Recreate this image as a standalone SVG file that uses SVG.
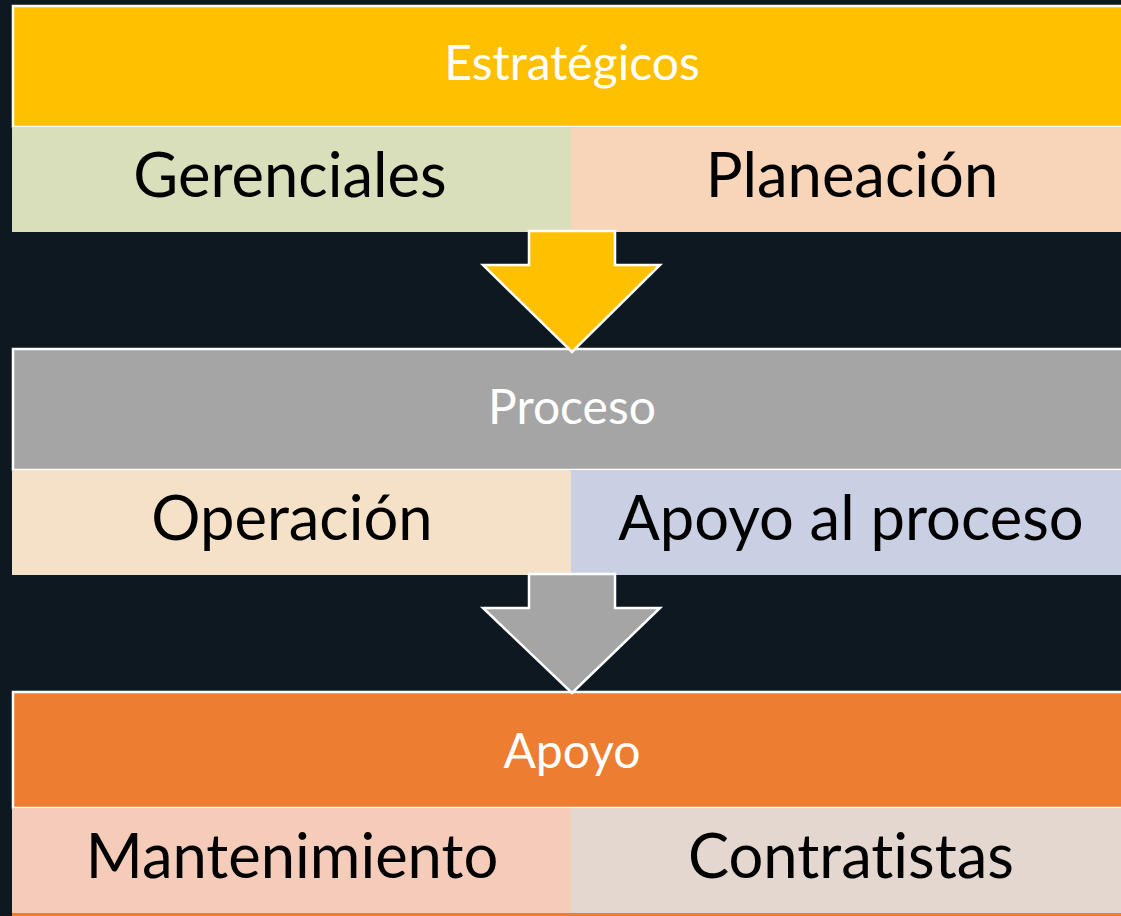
<svg xmlns="http://www.w3.org/2000/svg" width="1121" height="916" viewBox="0 0 1121 916">
<style>
text{font-variant-ligatures:none;font-feature-settings:"liga" 0,"clig" 0}
.hdr{font-family:Lato,"Open Sans","Liberation Sans",sans-serif;font-size:48px;fill:#ffffff;text-anchor:middle}
.cell{font-family:Lato,"Open Sans","Liberation Sans",sans-serif;font-size:61.5px;fill:#000000;text-anchor:middle}
.hbox{stroke:#ffffff;stroke-width:2.5}
.arrow{stroke:#ffffff;stroke-width:2.5;stroke-linejoin:miter}
</style>
<rect width="1121" height="916" fill="#0e1821"/>
<g id="estrategicos">
<rect class="hbox" x="13" y="6" width="1120" height="121" fill="#ffc000"/>
<text class="hdr" x="572" y="80">Estratégicos</text>
</g>
<g id="gerenciales">
<rect x="12" y="127" width="559" height="105" fill="#d9dfbb"/>
<text class="cell" x="290" y="197">Gerenciales</text>
</g>
<g id="planeacion">
<rect x="571" y="127" width="560" height="105" fill="#f8d4b9"/>
<text class="cell" x="852" y="197">Planeación</text>
</g>
<g id="proceso">
<rect class="hbox" x="13" y="349" width="1120" height="121" fill="#a5a5a5"/>
<text class="hdr" x="572" y="424">Proceso</text>
</g>
<g id="operacion">
<rect x="12" y="470" width="559" height="105" fill="#f5e1c8"/>
<text class="cell" x="292" y="540">Operación</text>
</g>
<g id="apoyo-al-proceso">
<rect x="571" y="470" width="560" height="105" fill="#cad0e3"/>
<text class="cell" x="851" y="540">Apoyo al proceso</text>
</g>
<g id="apoyo">
<rect class="hbox" x="13" y="692" width="1120" height="116" fill="#ed7d31"/>
<text class="hdr" x="572" y="768">Apoyo</text>
</g>
<g id="mantenimiento">
<rect x="12" y="808" width="559" height="105" fill="#f5cbb9"/>
<text class="cell" x="292" y="878">Mantenimiento</text>
</g>
<g id="contratistas">
<rect x="571" y="808" width="560" height="105" fill="#e3d7cf"/>
<text class="cell" x="851" y="878">Contratistas</text>
</g>
<rect x="12" y="913" width="1120" height="3" fill="#ed7d31"/>
<g id="connectors">
<polygon class="arrow" fill="#ffc000" points="529,231 615,231 615,265 660,265 572,352 483,265 529,265"/>
<polygon class="arrow" fill="#a5a5a5" points="529,574 615,574 615,608 660,608 572,693 483,608 529,608"/>
</g>
</svg>
